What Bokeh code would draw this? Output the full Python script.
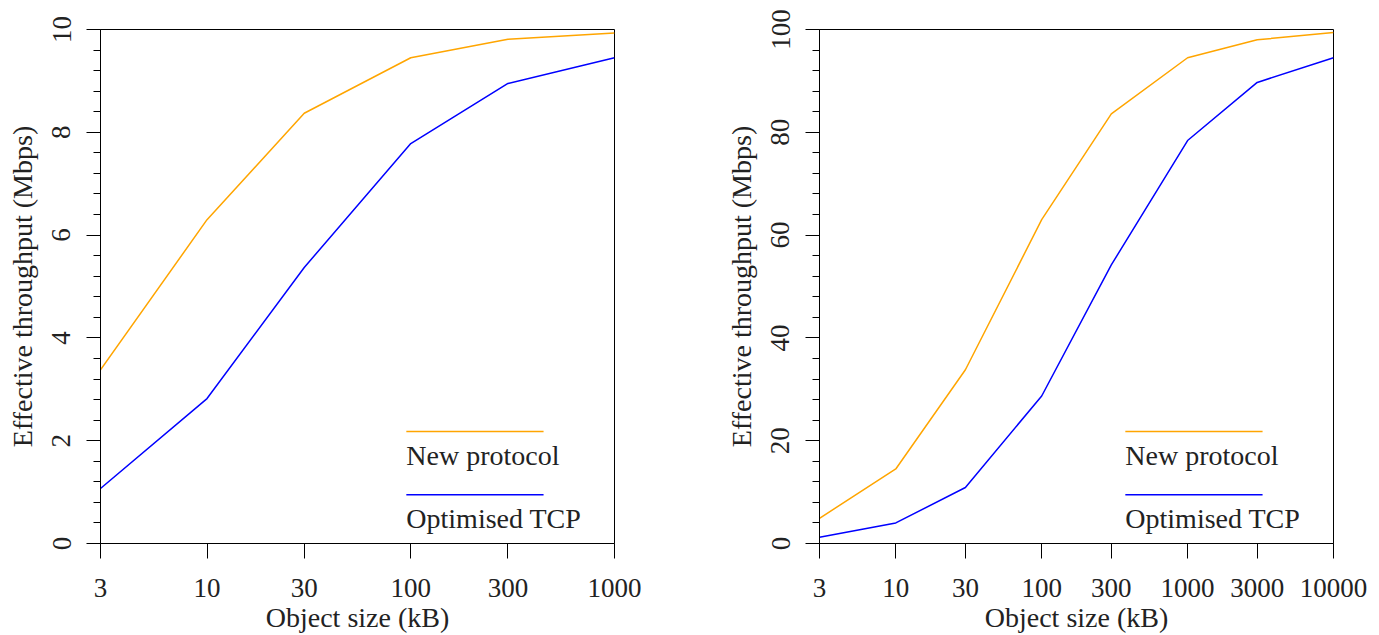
import math
from bokeh.plotting import figure
from bokeh.models import Range1d, FixedTicker, Label
from bokeh.layouts import row
from bokeh.embed import file_html
from bokeh.resources import INLINE

# ---- data ----
size_left = [3, 10, 30, 100, 300, 1000]
new_left = [3.38, 6.30, 8.37, 9.45, 9.81, 9.93]
tcp_left = [1.07, 2.82, 5.37, 7.78, 8.95, 9.45]

size_right = [3, 10, 30, 100, 300, 1000, 3000, 10000]
new_right = [4.9, 14.5, 33.8, 63.0, 83.6, 94.5, 98.0, 99.4]
tcp_right = [1.2, 4.0, 10.9, 28.7, 54.2, 78.4, 89.7, 94.5]

xticks_left = [3, 10, 30, 100, 300, 1000]
xticks_right = [3, 10, 30, 100, 300, 1000, 3000, 10000]
yticks_left = [0, 2, 4, 6, 8, 10]
yticks_right = [0, 20, 40, 60, 80, 100]

series_names = ["New protocol", "Optimised TCP"]
series_colors = ["#FFA500", "#0000FF"]

x_title = "Object size (kB)"
y_title = "Effective throughput (Mbps)"

FONT = "'Liberation Serif', 'Times New Roman', serif"
FS_TICK = "27px"
FS_TEXT = "28px"
TXT = "#222222"


def panel(xs, new, tcp, xticks, yticks, width, left_border, right_border):
    xmin, xmax = xticks[0], xticks[-1]
    ymin, ymax = yticks[0], yticks[-1]
    p = figure(width=width, height=635, x_axis_type="log",
               x_range=Range1d(xmin, xmax), y_range=Range1d(ymin, ymax),
               output_backend="svg", toolbar_location=None,
               min_border_left=left_border, min_border_right=right_border,
               min_border_top=29, min_border_bottom=92)
    p.grid.visible = False
    p.outline_line_color = "black"
    p.outline_line_width = 1
    p.background_fill_color = "white"
    p.border_fill_color = "white"

    for ys, c in zip([new, tcp], series_colors):
        p.line(xs, ys, line_color=c, line_width=1.5)

    # x axis
    xa = p.xaxis[0]
    xa.ticker = FixedTicker(ticks=xticks)
    xa.major_label_overrides = {t: str(t) for t in xticks}
    xa.major_tick_out = 15
    xa.major_tick_in = 0
    xa.major_label_standoff = 20
    xa.axis_label = x_title
    xa.axis_label_standoff = 2

    # y axis
    ya = p.yaxis[0]
    step = (yticks[1] - yticks[0]) / 5
    minor = [ymin + step * i for i in range(int(round((ymax - ymin) / step)) + 1)]
    ya.ticker = FixedTicker(ticks=yticks, minor_ticks=minor)
    ya.major_tick_out = 14
    ya.major_tick_in = 0
    ya.minor_tick_out = 7
    ya.minor_tick_in = 0
    ya.major_label_orientation = "vertical"
    ya.major_label_standoff = 16
    ya.axis_label = y_title
    ya.axis_label_standoff = 12

    for ax in (xa, ya):
        ax.axis_line_color = "black"
        ax.major_tick_line_color = "black"
        ax.minor_tick_line_color = "black" if ax is ya else None
        ax.major_label_text_font = FONT
        ax.major_label_text_font_size = FS_TICK
        ax.major_label_text_color = TXT
        ax.axis_label_text_font = FONT
        ax.axis_label_text_font_size = FS_TEXT
        ax.axis_label_text_font_style = "normal"
        ax.axis_label_text_color = TXT

    lx0, lx1 = math.log10(xmin), math.log10(xmax)
    fx = lambda f: 10 ** (lx0 + f * (lx1 - lx0))
    fy = lambda f: ymin + f * (ymax - ymin)

    # legend drawn R-style: key line above its label
    key_y = [0.218, 0.095]
    txt_y = [0.172, 0.049]
    for name, c, ky, ty in zip(series_names, series_colors, key_y, txt_y):
        p.segment(x0=[fx(0.595)], y0=[fy(ky)], x1=[fx(0.862)], y1=[fy(ky)],
                  line_color=c, line_width=1.5)
        p.add_layout(Label(x=fx(0.595), y=fy(ty), text=name,
                           text_font=FONT, text_font_size=FS_TEXT,
                           text_color=TXT, text_baseline="alphabetic",
                           text_align="left"))
    return p


p1 = panel(size_left, new_left, tcp_left, xticks_left, yticks_left, 719, 100, 105)
p2 = panel(size_right, new_right, tcp_right, xticks_right, yticks_right, 660, 100, 46)

layout = row(p1, p2)
open("out.html", "w").write(file_html(layout, INLINE))
